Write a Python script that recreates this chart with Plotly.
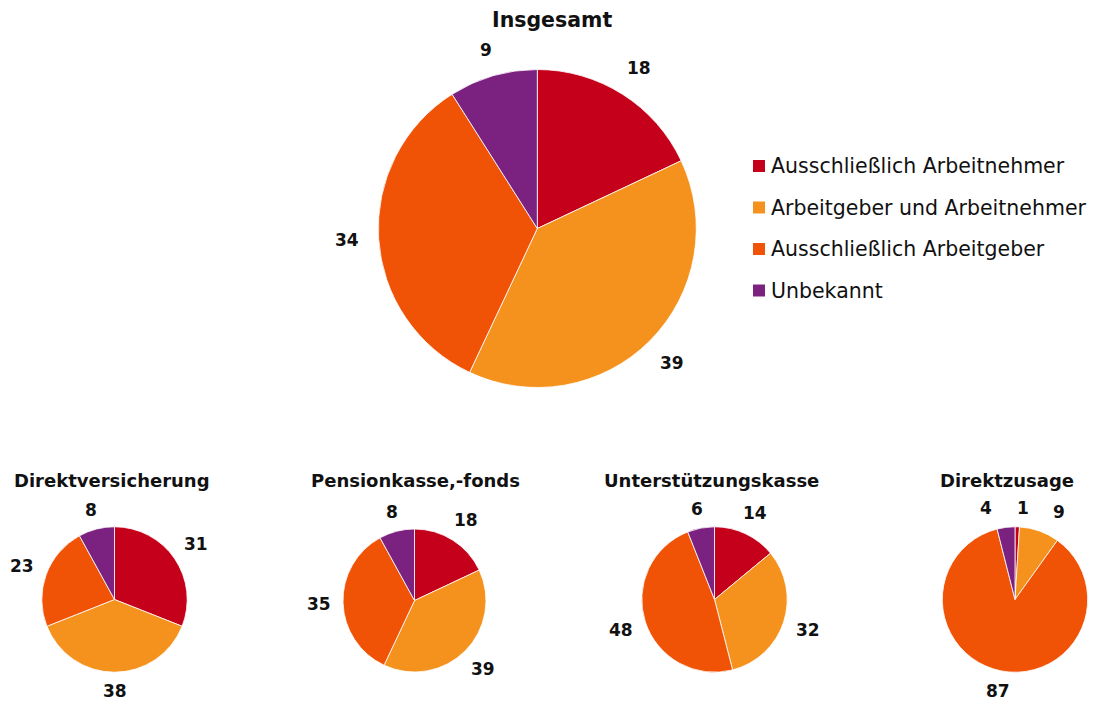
import math
import plotly.graph_objects as go

# --- data -------------------------------------------------------------
categories = [
    "Ausschließlich Arbeitnehmer",
    "Arbeitgeber und Arbeitnehmer",
    "Ausschließlich Arbeitgeber",
    "Unbekannt",
]
colors = ["#C4001A", "#F5921E", "#F05206", "#7B2280"]

chart_titles = [
    "Insgesamt",
    "Direktversicherung",
    "Pensionkasse,-fonds",
    "Unterstützungskasse",
    "Direktzusage",
]
insgesamt = [18, 39, 34, 9]
direktversicherung = [31, 38, 23, 8]
pensionkasse = [18, 39, 35, 8]
unterstuetzungskasse = [14, 32, 48, 6]
direktzusage = [1, 9, 87, 4]
series = [insgesamt, direktversicherung, pensionkasse, unterstuetzungskasse, direktzusage]

# --- layout (pixels) ----------------------------------------------------
W, H = 1099, 702
FONT = "DejaVu Sans"
# pie centre x, centre y, radius, label gap, title x, title y, title size
pie_layout = [
    (537.3, 228.5, 159.0, 19.0, 552, 20, 20.5),
    (114.5, 599.5, 72.7, 12.5, 112, 480, 18),
    (414.5, 600.5, 71.5, 12.5, 415, 480, 18),
    (714.5, 599.5, 72.7, 12.5, 711, 480, 18),
    (1015.0, 599.5, 72.7, 12.5, 1007, 480, 18),
]
LABEL_SIZE = 17
DIGIT_W = 0.696 * LABEL_SIZE
CAP_H = 0.729 * LABEL_SIZE
MIN_LABEL_GAP = 25  # horizontal clearance between neighbouring value labels


def px(x):
    return x / W


def py(y):
    return 1 - y / H


def spread_labels(items):
    """Push apart labels that sit on the same line and crowd each other."""
    for _ in range(50):
        moved = False
        for i in range(len(items)):
            for j in range(i + 1, len(items)):
                a, b = items[i], items[j]
                if abs(a["y"] - b["y"]) > CAP_H:
                    continue
                need = (a["w"] + b["w"]) / 2 + MIN_LABEL_GAP
                d = b["x"] - a["x"]
                if abs(d) < need - 0.01:
                    shift = (need - abs(d)) / 2
                    sgn = 1 if d >= 0 else -1
                    a["x"] -= sgn * shift
                    b["x"] += sgn * shift
                    moved = True
        if not moved:
            break
    return items


fig = go.Figure()
annotations = []

for name, values, (cx, cy, r, gap, tx, ty, tsize) in zip(chart_titles, series, pie_layout):
    fig.add_trace(
        go.Pie(
            labels=categories,
            values=values,
            sort=False,
            direction="clockwise",
            rotation=0,
            textinfo="none",
            hoverinfo="label+value",
            showlegend=False,
            marker=dict(colors=colors, line=dict(color="white", width=0.8)),
            domain=dict(x=[px(cx - r), px(cx + r)], y=[py(cy + r), py(cy - r)]),
            name=name,
        )
    )
    annotations.append(
        dict(
            x=px(tx), y=py(ty), xref="paper", yref="paper",
            text=name, showarrow=False, xanchor="center", yanchor="middle",
            font=dict(family=FONT, size=tsize, color="#111111", weight=700),
        )
    )
    # value labels just outside each slice, along its mid-angle
    total = sum(values)
    cum = 0
    items = []
    for v in values:
        theta = 2 * math.pi * (cum + v / 2) / total
        cum += v
        dx, dy = math.sin(theta), -math.cos(theta)
        txt = str(v)
        w = DIGIT_W * len(txt)
        dist = r + gap + 0.5 * w * abs(dx) + 0.5 * CAP_H * abs(dy)
        items.append(dict(x=cx + dist * dx, y=cy + dist * dy, w=w, text=txt))
    for it in spread_labels(items):
        annotations.append(
            dict(
                x=px(it["x"]), y=py(it["y"]),
                xref="paper", yref="paper", text=it["text"], showarrow=False,
                xanchor="center", yanchor="middle",
                font=dict(family=FONT, size=LABEL_SIZE, color="#111111", weight=700),
            )
        )

# legend: colour squares with category names
LEG_X, LEG_Y, LEG_STEP, SQ = 753.0, 166.0, 41.5, 12.0
shapes = []
for i, (cat, col) in enumerate(zip(categories, colors)):
    yc = LEG_Y + i * LEG_STEP
    shapes.append(
        dict(
            type="rect", xref="paper", yref="paper",
            x0=px(LEG_X), x1=px(LEG_X + SQ), y0=py(yc + SQ / 2), y1=py(yc - SQ / 2),
            fillcolor=col, line=dict(width=0),
        )
    )
    annotations.append(
        dict(
            x=px(LEG_X + SQ + 4), y=py(yc), xref="paper", yref="paper",
            text=cat, showarrow=False, xanchor="left", yanchor="middle",
            font=dict(family=FONT, size=20.5, color="#111111"),
        )
    )

fig.update_layout(
    width=W,
    height=H,
    margin=dict(l=0, r=0, t=0, b=0),
    paper_bgcolor="white",
    plot_bgcolor="white",
    annotations=annotations,
    shapes=shapes,
    showlegend=False,
)

fig.write_html("out.html")
